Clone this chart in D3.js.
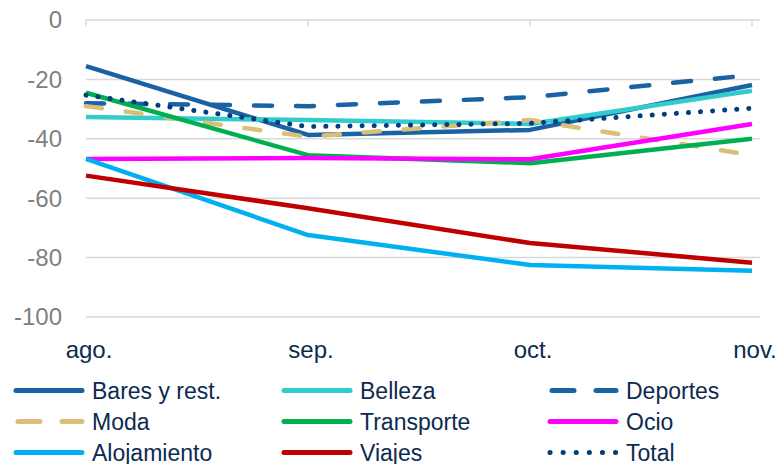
<!DOCTYPE html>
<head>
  <meta charset="utf-8">
  <script src="https://cdn.jsdelivr.net/npm/d3@7"></script>
  <style>
    body { margin: 0; background: #fff; }
    text { font-family: "Liberation Sans", Arial, sans-serif; }
  </style>
</head>
<body>
  <script>
    // data
    var months = ["ago.", "sep.", "oct.", "nov."];
    var yTicks = [0, -20, -40, -60, -80, -100];

    var bares = [-15.5, -38.7, -37, -21.9];
    var belleza = [-32.7, -33.7, -35, -23.8];
    var deportes = [-28, -29, -26, -18.5];
    var moda = [-29, -39.3, -33.7, -45.5];
    var transporte = [-24.5, -45.5, -48.2, -40];
    var ocio = [-46.8, -46.5, -46.9, -35];
    var alojamiento = [-46.8, -72.4, -82.5, -84.4];
    var viajes = [-52.4, -63.4, -75.1, -81.7];
    var total = [-25.3, -35.9, -34.8, -29.7];

    var series = [
      {name: "Bares y rest.", values: bares, color: "#1b62a5", dash: null},
      {name: "Belleza", values: belleza, color: "#33cccc", dash: null},
      {name: "Deportes", values: deportes, color: "#1b62a5", dash: "18,24"},
      {name: "Moda", values: moda, color: "#d9bf77", dash: "16,24"},
      {name: "Transporte", values: transporte, color: "#00b050", dash: null},
      {name: "Ocio", values: ocio, color: "#ff00ff", dash: null},
      {name: "Alojamiento", values: alojamiento, color: "#00b0f0", dash: null},
      {name: "Viajes", values: viajes, color: "#c00000", dash: null},
      {name: "Total", values: total, color: "#003f7d", dash: "0.1,12"}
    ];

    var width = 783, height = 464;

    var svg = d3.select("body").append("svg")
        .attr("width", width)
        .attr("height", height);

    var x = d3.scalePoint()
        .domain(months)
        .range([86, 752]);

    var y = d3.scaleLinear()
        .domain([-100, 0])
        .range([317, 20]);

    var plotRight = 760;

    // gridlines
    svg.append("g")
      .selectAll("line")
      .data(yTicks)
      .enter().append("line")
        .attr("x1", x.range()[0])
        .attr("x2", plotRight)
        .attr("y1", function(d) { return y(d); })
        .attr("y2", function(d) { return y(d); })
        .attr("stroke", "#d9d9d9")
        .attr("stroke-width", 1.5);

    // category ticks on the zero line
    svg.append("g")
      .selectAll("line")
      .data(months)
      .enter().append("line")
        .attr("x1", function(d) { return x(d); })
        .attr("x2", function(d) { return x(d); })
        .attr("y1", y(0))
        .attr("y2", y(0) + 6)
        .attr("stroke", "#d9d9d9")
        .attr("stroke-width", 1.5);

    // y labels
    svg.append("g")
      .selectAll("text")
      .data(yTicks)
      .enter().append("text")
        .attr("x", 62)
        .attr("y", function(d) { return y(d); })
        .attr("dy", "0.35em")
        .attr("text-anchor", "end")
        .attr("fill", "#808080")
        .style("font-size", "24px")
        .text(function(d) { return d; });

    // x labels (low position)
    svg.append("g")
      .selectAll("text")
      .data(months)
      .enter().append("text")
        .attr("x", function(d) { return x(d) + 3; })
        .attr("y", 358)
        .attr("text-anchor", "middle")
        .attr("fill", "#0d2a50")
        .style("font-size", "24px")
        .text(function(d) { return d; });

    var line = d3.line()
        .x(function(d, i) { return x(months[i]); })
        .y(function(d) { return y(d); });

    svg.append("g")
      .selectAll("path")
      .data(series)
      .enter().append("path")
        .attr("d", function(d) { return line(d.values); })
        .attr("fill", "none")
        .attr("stroke", function(d) { return d.color; })
        .attr("stroke-width", function(d) { return d.name == "Total" ? 5 : 4.5; })
        .attr("stroke-linecap", function(d) { return d.dash ? "round" : "butt"; })
        .attr("stroke-linejoin", "round")
        .attr("stroke-dasharray", function(d) { return d.dash; });

    // legend, 3 columns
    var colX = [14, 282, 548];
    var rowY = [390.5, 421.5, 452.5];

    var item = svg.append("g")
      .selectAll("g")
      .data(series)
      .enter().append("g")
        .attr("transform", function(d, i) {
          return "translate(" + colX[i % 3] + "," + rowY[Math.floor(i / 3)] + ")";
        });

    item.append("line")
        .attr("x1", 2)
        .attr("x2", 68)
        .attr("stroke", function(d) { return d.color; })
        .attr("stroke-width", 5)
        .attr("stroke-linecap", "round")
        .attr("stroke-dasharray", function(d) {
          if (d.name == "Total") return "0.1,13";
          return d.dash ? "22,22" : null;
        })
        .attr("stroke-dashoffset", function(d) { return d.dash && d.name != "Total" ? -2 : 0; });

    item.append("text")
        .attr("x", 78)
        .attr("y", 8)
        .attr("fill", "#0d2a50")
        .style("font-size", "23px")
        .text(function(d) { return d.name; });
  </script>
</body>
